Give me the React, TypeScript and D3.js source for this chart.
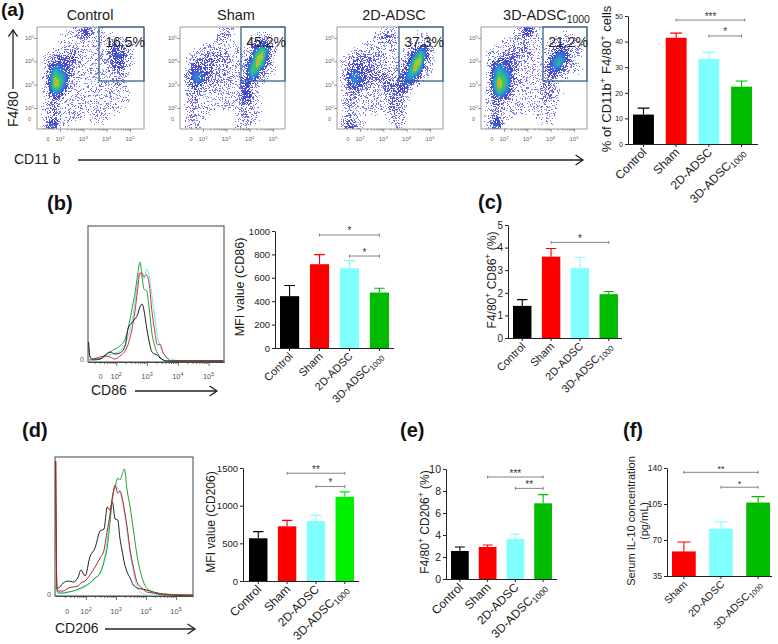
import { useEffect, useRef } from "react";
import * as d3 from "d3";

// ── Data: bar panels ──────────────────────────────────────────────────────────

const cats4 = ["Control", "Sham", "2D-ADSC", "3D-ADSC_{1000}"];
const cats3 = ["Sham", "2D-ADSC", "3D-ADSC_{1000}"];

const aMeans = [11.5, 41.5, 33.2, 22.4];
const aTops = [14, 43.3, 35.8, 24.6];
const aTicks = [0, 10, 20, 30, 40, 50];
const aSig: [number, number, number, string][] = [[1, 3.1, 48.4, "***"], [2, 3, 42.2, "*"]];

const bMeans = [443, 716, 682, 474];
const bTops = [534, 798, 747, 511];
const bTicks = [0, 200, 400, 600, 800, 1000];
const bSig: [number, number, number, string][] = [[1, 3, 966, "*"], [2, 3, 786, "*"]];

const cMeans = [1.42, 3.6, 3.09, 1.94];
const cTops = [1.7, 3.96, 3.57, 2.06];
const cTicks = [0, 1, 2, 3, 4, 5];
const cSig: [number, number, number, string][] = [[1, 3, 4.23, "*"]];

const dMeans = [567, 726, 796, 1117];
const dTops = [655, 805, 871, 1183];
const dTicks = [0, 500, 1000, 1500];
const dSig: [number, number, number, string][] = [[1, 3, 1430, "**"], [2, 3, 1254, "*"]];

const eMeans = [2.55, 2.91, 3.64, 6.88];
const eTops = [2.91, 3.09, 4.09, 7.67];
const eTicks = [0, 2, 4, 6, 8, 10];
const eSig: [number, number, number, string][] = [[1, 3, 9.27, "***"], [2, 3, 8.24, "**"]];

const fMeans = [58.9, 80.9, 106.4];
const fTops = [68, 87.7, 112.2];
const fTicks = [35, 70, 105, 140];
const fSig: [number, number, number, string][] = [[0, 2, 135.8, "**"], [1, 2, 121.3, "*"]];

// ── Data: histograms (x in decades, y in counts) ──────────────────────────────

const bX = [1.1, 1.15, 1.26, 1.47, 1.64, 1.8, 1.96, 2.12, 2.29, 2.39, 2.5, 2.61, 2.69, 2.77, 2.84, 2.9, 2.99, 3.08, 3.16, 3.25, 3.34, 3.42, 3.53, 3.64, 3.8, 4.07, 5.48];
const bBlack = [19, 4, 2, 2, 6, 9, 7, 8, 15, 33, 38, 42, 46, 54, 57, 51, 33, 18, 9, 7, 6, 3, 1, 0, 0, 0, 0];
const bGreen = [19, 4, 1, 2, 5, 9, 12, 15, 22, 33, 50, 68, 85, 99, 85, 72, 70, 50, 28, 15, 8, 4, 1, 0, 0, 0, 0];
const bRed = [2, 1, 2, 4, 5, 4, 2, 5, 10, 17, 30, 50, 70, 88, 88, 84, 86, 75, 50, 30, 16, 17, 8, 3, 0, 0, 0];
const bCyan = [1, 1, 1, 2, 4, 6, 8, 10, 17, 25, 38, 58, 78, 88, 83, 82, 92, 85, 65, 45, 25, 15, 8, 4, 2, 0, 0];

const dX = [0.99, 1.03, 1.08, 1.24, 1.41, 1.58, 1.74, 1.83, 1.97, 2.13, 2.3, 2.47, 2.6, 2.71, 2.8, 2.88, 2.97, 3.06, 3.13, 3.2, 3.28, 3.37, 3.47, 3.58, 3.71, 3.86, 4.02, 4.24, 4.58, 5.57];
const dBlack = [135, 8, 8, 13, 15, 14, 19, 26, 20, 39, 48, 65, 67, 89, 86, 94, 77, 76, 58, 46, 33, 24, 18, 11, 8, 7, 6, 4, 2, 0];
const dRed = [135, 8, 5, 5, 8, 9, 10, 13, 15, 21, 29, 38, 46, 66, 81, 98, 111, 103, 105, 99, 86, 69, 46, 29, 13, 8, 4, 3, 1, 1];
const dGreen = [10, 6, 3, 3, 4, 5, 7, 8, 10, 13, 18, 23, 34, 49, 73, 98, 109, 118, 116, 121, 127, 106, 89, 66, 39, 19, 8, 4, 2, 1];
const dCyan = [5, 4, 3, 3, 4, 5, 6, 7, 9, 13, 17, 23, 36, 56, 83, 101, 109, 108, 104, 96, 83, 64, 43, 24, 8, 3, 1, 1, 1, 0];

const histMajor = [2, 3, 4, 5];

// ── Data: flow density, read cell by cell (0 empty … 9 peak) ──────────────────

const flowNames = ["Control", "Sham", "2D-ADSC", "3D-ADSC_{1000}"];
const flowPercents = ["16.5%", "45.2%", "37.3%", "21.2%"];

const flowControl = [
  "000000112431100000000",
  "000001113431111000000",
  "000001111211111211000",
  "000011111111112332100",
  "000112221111113443100",
  "001233332111123553100",
  "012344432111123443100",
  "013554321111112442100",
  "014765321111112331000",
  "015876321111111221000",
  "015986211111111221000",
  "015985211111111211000",
  "014764211111111111000",
  "013542111111111111000",
  "012321111111111111000",
  "012311111111111110000",
  "013311111111111100000",
  "012211111011110000000",
  "014411100001100000000",
  "015510000000000000000",
];
const flowSham = [
  "000000001110000000000",
  "000000013300000111000",
  "000000012200001232000",
  "000001111110002454200",
  "000112221111014686200",
  "001223332211115895200",
  "012333332211136984100",
  "013433322211147973100",
  "024544322211158742100",
  "025654322211247531000",
  "025653222211345210000",
  "024432222111343100000",
  "023321211111343100000",
  "013211111111453100000",
  "012211111111342100000",
  "012111111111232100000",
  "012111100001222100000",
  "012111000001221100000",
  "011100000001221000000",
  "012100000001110000000",
];
const flow2D = [
  "000000000111000000000",
  "000000012331000011000",
  "000000012331000111100",
  "000001111111001233200",
  "000111111111012465200",
  "001222222211013686200",
  "012333332211125894100",
  "013443322211136983100",
  "014543332211247962100",
  "025654433322257641000",
  "025654333332356410000",
  "014543222333453100000",
  "013321111233431000000",
  "012211111133321000000",
  "012111111133310000000",
  "012111111123210000000",
  "012111111133310000000",
  "012111000012210000000",
  "023211000012210000000",
  "034310000001100000000",
];
const flow3D = [
  "000000013531000000000",
  "000000123421000011000",
  "000011122111001112100",
  "000111222211012342110",
  "001122333211013443210",
  "012233332211024653210",
  "013444322111136764100",
  "014654321111146742100",
  "015765321111145421110",
  "015876321111234311000",
  "016986321111232100000",
  "016986211111232000000",
  "015875211111232100000",
  "014653111111232000000",
  "013431111111221000000",
  "013321111111111000000",
  "012211111111111000000",
  "013311100001111000000",
  "014410000000110000000",
  "015510000000000000000",
];

const flowGrids = [flowControl, flowSham, flow2D, flow3D];

// ── Layout ────────────────────────────────────────────────────────────────────

const FONT = "'Liberation Sans', Arial, sans-serif";
const BLACK = "#000000";
const RED = "#fa0000";
const CYAN = "#80ffff";
const GREEN = "#00bb00";
const BRIGHT = "#00f000";

const flowFrames = [
  { x: 37, w: 107, gate: 99, title: 90 },
  { x: 180, w: 105, gate: 241, title: 236 },
  { x: 337, w: 106, gate: 399, title: 394 },
  { x: 481, w: 106, gate: 543, title: 546.5 },
];

// ── Helpers ───────────────────────────────────────────────────────────────────

type G = d3.Selection<any, unknown, null, undefined>;

// "a^{b}" and "a_{b}" become shifted tspans
function richText(text: d3.Selection<any, any, any, any>, s: string, size: number) {
  const parts = s.split(/(\^\{[^}]*\}|_\{[^}]*\})/).filter(Boolean);
  let shift = 0;
  parts.forEach((p) => {
    const sup = p.startsWith("^{");
    const sub = p.startsWith("_{");
    const target = sup ? -size * 0.38 : sub ? size * 0.22 : 0;
    text
      .append("tspan")
      .attr("dy", target - shift)
      .attr("font-size", sup || sub ? size * 0.72 : size)
      .text(sup || sub ? p.slice(2, -1) : p);
    shift = target;
  });
}

function label(g: G, x: number, y: number, s: string, size: number, opts: { anchor?: string; rotate?: number; fill?: string; weight?: number } = {}) {
  const t = g
    .append("text")
    .attr("transform", `translate(${x},${y}) rotate(${opts.rotate ?? 0})`)
    .attr("text-anchor", opts.anchor ?? "start")
    .attr("font-family", FONT)
    .attr("fill", opts.fill ?? "#1c1c1c")
    .attr("font-weight", opts.weight ?? 400)
    .attr("font-size", size);
  richText(t, s, size);
  return t;
}

function arrow(g: G, x1: number, y1: number, x2: number, y2: number, head: number) {
  const a = Math.atan2(y2 - y1, x2 - x1);
  const line = d3.line();
  g.append("path")
    .attr("d", line([[x1, y1], [x2, y2]]))
    .attr("stroke", "#222")
    .attr("stroke-width", 1.3)
    .attr("fill", "none");
  g.append("path")
    .attr(
      "d",
      line([
        [x2 - head * Math.cos(a - 0.6), y2 - head * Math.sin(a - 0.6)],
        [x2, y2],
        [x2 - head * Math.cos(a + 0.6), y2 - head * Math.sin(a + 0.6)],
      ]),
    )
    .attr("stroke", "#222")
    .attr("stroke-width", 1.3)
    .attr("fill", "none");
}

interface BarOpts {
  cats: string[];
  means: number[];
  tops: number[];
  colors: string[];
  ticks: number[];
  sig: [number, number, number, string][];
  left: number; // y axis x
  barL: number;
  barR: number;
  end: number;
  y0: number;
  y1: number;
  domain: [number, number];
  tickSize: number;
  catSize: number;
  sigSize?: number;
}

function drawBars(g: G, o: BarOpts) {
  const x = d3.scaleBand().domain(o.cats).range([o.barL, o.barR]).paddingInner(0.36);
  const y = d3.scaleLinear().domain(o.domain).range([o.y0, o.y1]);
  const bw = x.bandwidth();
  const cx = (i: number) => (x(o.cats[0]) as number) + bw / 2 + x.step() * i;

  o.cats.forEach((c, i) => {
    g.append("rect")
      .attr("x", x(c) as number)
      .attr("y", y(o.means[i]))
      .attr("width", bw)
      .attr("height", o.y0 - y(o.means[i]))
      .attr("fill", o.colors[i]);
    g.append("path")
      .attr("d", `M${cx(i)},${y(o.means[i])}V${y(o.tops[i])}M${cx(i) - bw * 0.28},${y(o.tops[i])}H${cx(i) + bw * 0.28}`)
      .attr("stroke", o.colors[i])
      .attr("stroke-width", 1.1)
      .attr("fill", "none");
    g.append("path")
      .attr("d", `M${cx(i)},${o.y0}v3`)
      .attr("stroke", "#222");
    const t = label(g, cx(i) + 4, o.y0 + 9, c, o.catSize, { anchor: "end", rotate: -45 });
    t.attr("fill", "#222");
  });

  const yAxis = d3.axisLeft(y).tickValues(o.ticks).tickSize(3).tickSizeOuter(0).tickFormat(d3.format("d") as any);
  const ax = g.append("g").attr("transform", `translate(${o.left},0)`).call(yAxis as any);
  ax.selectAll("text").attr("font-family", FONT).attr("font-size", o.tickSize).attr("fill", "#222").attr("dx", 1);
  ax.selectAll("line,path").attr("stroke", "#222");

  g.append("path").attr("d", `M${o.left},${o.y0 + 0.5}H${o.end}`).attr("stroke", "#222").attr("stroke-width", 1.1);

  o.sig.forEach(([from, to, v, stars]) => {
    const ly = y(v);
    g.append("path")
      .attr("d", `M${cx(from)},${ly - 1.5}v3M${cx(from)},${ly}H${cx(to)}M${cx(to)},${ly - 1.5}v3`)
      .attr("stroke", "#666")
      .attr("stroke-width", 0.8)
      .attr("fill", "none");
    label(g, (cx(from) + cx(to)) / 2, ly - 0.5, stars, o.sigSize ?? 10, { anchor: "middle", fill: "#333" });
  });
}

const logMinor = (from: number, to: number) =>
  d3.range(from, to).flatMap((d) => d3.range(2, 10).map((m) => d + Math.log10(m)));

function drawHist(
  g: G,
  f: { x0: number; x1: number; y0: number; y1: number; at3: number; decade: number; base: number; zeroTick: number; labelY: number; yMax: number },
  xs: number[],
  curves: [number[], string][],
) {
  const x = d3.scaleLinear().domain([3 + (f.x0 - f.at3) / f.decade, 3 + (f.x1 - f.at3) / f.decade]).range([f.x0, f.x1]);
  const y = d3.scaleLinear().domain([0, f.yMax]).range([f.base, f.y1]);
  g.append("rect")
    .attr("x", f.x0)
    .attr("y", f.y1)
    .attr("width", f.x1 - f.x0)
    .attr("height", f.y0 - f.y1)
    .attr("fill", "#fff")
    .attr("stroke", "#444")
    .attr("stroke-width", 1);
  const line = d3
    .line<number>()
    .x((_d, i) => x(xs[i]))
    .y((d) => y(d))
    .curve(d3.curveMonotoneX);
  curves.forEach(([vals, color]) => {
    g.append("path").attr("d", line(vals)).attr("fill", "none").attr("stroke", color).attr("stroke-width", 1);
  });
  const minor = d3.axisBottom(x).tickValues(logMinor(1, 5).filter((d) => d > x.domain()[0])).tickSize(2).tickSizeOuter(0).tickFormat(() => "");
  const major = d3.axisBottom(x).tickValues(histMajor).tickSize(4).tickSizeOuter(0).tickFormat(() => "");
  [minor, major].forEach((a) => {
    const ax = g.append("g").attr("transform", `translate(0,${f.y0})`).call(a as any);
    ax.selectAll("line,path").attr("stroke", "#444").attr("stroke-width", 0.7);
  });
  histMajor.forEach((d) => {
    label(g, x(d), f.labelY, `10^{${d}}`, 7.5, { anchor: "middle", fill: "#555" });
  });
  label(g, x(f.zeroTick), f.labelY, "0", 7, { anchor: "middle", fill: "#555" });
  label(g, f.x0 - 4, f.base + 1, "0", 7, { anchor: "end", fill: "#555" });
}

const densityColor = d3
  .scaleLinear<string>()
  .domain([1, 4, 6, 7, 8, 8.7, 9])
  .range(["#7878ea", "#4444d4", "#3088d4", "#28b4a8", "#48c458", "#b8d030", "#e8a020"])
  .clamp(true);
const densityCover = d3.scaleLinear().domain([0, 1, 2, 3, 4, 6]).range([0, 0.2, 0.34, 0.5, 0.72, 1]).clamp(true);

function drawDensity(g: G, rows: string[], px: number, py: number, w: number, h: number) {
  const nr = rows.length;
  const nc = rows[0].length;
  const gx = d3.scaleLinear().domain([0, w]).range([-0.5, nc - 0.5]);
  const gy = d3.scaleLinear().domain([0, h]).range([-0.5, nr - 0.5]);
  const cell = (r: number, c: number) =>
    +rows[Math.max(0, Math.min(nr - 1, r))][Math.max(0, Math.min(nc - 1, c))];
  const paths = new Map<number, string>();
  for (let j = 0; j < h; j++) {
    for (let i = 0; i < w; i++) {
      const fx = gx(i + 0.5);
      const fy = gy(j + 0.5);
      const c0 = Math.floor(fx);
      const r0 = Math.floor(fy);
      const tx = fx - c0;
      const ty = fy - r0;
      const v =
        cell(r0, c0) * (1 - tx) * (1 - ty) +
        cell(r0, c0 + 1) * tx * (1 - ty) +
        cell(r0 + 1, c0) * (1 - tx) * ty +
        cell(r0 + 1, c0 + 1) * tx * ty;
      // stipple threshold from the pixel position, so thin regions read as separate dots
      const s = Math.sin((i + px) * 12.9898 + (j + py) * 78.233) * 43758.5453;
      const t = s - Math.floor(s);
      if (densityCover(v) > t) {
        const key = Math.round(v * 2) / 2;
        paths.set(key, (paths.get(key) ?? "") + `M${px + i},${py + j}h1v1h-1z`);
      }
    }
  }
  const dots = g.append("g").attr("filter", "url(#soft)");
  paths.forEach((d, key) => {
    dots.append("path").attr("d", d).attr("fill", densityColor(key));
  });
}

function drawFlow(g: G, idx: number) {
  const fr = flowFrames[idx];
  const top = 27;
  const h = 102;
  drawDensity(g, flowGrids[idx], fr.x, top, fr.w, h);
  g.append("path")
    .attr("d", `M${fr.x},${top}H${fr.x + fr.w}V${top + h}H${fr.x}Z`)
    .attr("fill", "none")
    .attr("stroke", "#9a9a9a")
    .attr("stroke-width", 1);
  g.append("rect")
    .attr("x", fr.gate)
    .attr("y", top)
    .attr("width", fr.x + fr.w - fr.gate)
    .attr("height", 54)
    .attr("fill", "none")
    .attr("stroke", "#2f5580")
    .attr("stroke-width", 1.2);

  const xs = d3.scaleLinear().domain([2, 5]).range([fr.x + 23, fr.x + 93]);
  const ys = d3.scaleLinear().domain([2, 5]).range([top + 81, top + 11]);
  const xAxis = d3.axisBottom(xs).tickValues(logMinor(2, 5)).tickSize(1.5).tickSizeOuter(0).tickFormat(() => "");
  const xMajor = d3.axisBottom(xs).tickValues(histMajor).tickSize(3).tickSizeOuter(0).tickFormat(() => "");
  const yMajor = d3.axisLeft(ys).tickValues(histMajor).tickSize(3).tickSizeOuter(0).tickFormat(() => "");
  [xAxis, xMajor].forEach((a) => {
    const ax = g.append("g").attr("transform", `translate(0,${top + h})`).call(a as any);
    ax.selectAll("line").attr("stroke", "#555").attr("stroke-width", 0.6);
    ax.selectAll("path").attr("stroke", "none");
  });
  const yAx = g.append("g").attr("transform", `translate(${fr.x},0)`).call(yMajor as any);
  yAx.selectAll("line").attr("stroke", "#555").attr("stroke-width", 0.6);
  yAx.selectAll("path").attr("stroke", "none");

  histMajor.forEach((d) => {
    label(g, xs(d), 141, `10^{${d}}`, 6, { anchor: "middle", fill: "#666" });
    label(g, fr.x - 3, ys(d) + 2, `10^{${d}}`, 6, { anchor: "end", fill: "#666" });
  });
  label(g, fr.x + 11, 141, "0", 5.5, { anchor: "middle", fill: "#666" });
  label(g, fr.x - 6, top + 94, "0", 5.5, { anchor: "end", fill: "#666" });
}

// ── App ───────────────────────────────────────────────────────────────────────

export default function App() {
  const svgRef = useRef<SVGSVGElement>(null);

  useEffect(() => {
    if (!svgRef.current) return;
    const svg = d3.select(svgRef.current);
    svg.selectAll("*").remove();

    const filter = svg.append("defs").append("filter").attr("id", "soft");
    filter.append("feGaussianBlur").attr("stdDeviation", 0.35);

    const g = svg.append("g") as G;

    // panel letters
    label(g, 1, 16, "(a)", 19, { weight: 700, fill: "#111" });
    label(g, 47, 210, "(b)", 20, { weight: 700, fill: "#111" });
    label(g, 478, 209, "(c)", 20, { weight: 700, fill: "#111" });
    label(g, 22, 437, "(d)", 20, { weight: 700, fill: "#111" });
    label(g, 400, 437, "(e)", 20, { weight: 700, fill: "#111" });
    label(g, 623, 437, "(f)", 20, { weight: 700, fill: "#111" });

    // (a) flow plots
    flowNames.forEach((name, i) => {
      drawFlow(g, i);
      const fr = flowFrames[i];
      label(g, fr.title, 20, name, 14.5, { anchor: "middle" });
      label(g, fr.x + fr.w + 1, 47, flowPercents[i], 14, { anchor: "end" });
    });
    label(g, 18, 127, "F4/80", 14, { rotate: -90 });
    arrow(g, 13, 89, 13, 30, 8);
    label(g, 14, 164, "CD11 b", 14);
    arrow(g, 78, 160, 583, 160, 9);

    drawBars(g, {
      cats: cats4, means: aMeans, tops: aTops, colors: [BLACK, RED, CYAN, GREEN], ticks: aTicks, sig: aSig,
      left: 628, barL: 633, barR: 752, end: 758, y0: 144, y1: 16, domain: [0, 50], tickSize: 7, catSize: 12,
    });
    label(g, 611, 79, "% of CD11b^{+} F4/80^{+} cells", 13, { anchor: "middle", rotate: -90 });

    // (b)
    drawHist(
      g,
      { x0: 88, x1: 224, y0: 362, y1: 226, at3: 147, decade: 30.8, base: 361, zeroTick: 1.5, labelY: 379, yMax: 135 },
      bX,
      [[bCyan, "#70e8f0"], [bGreen, "#20a040"], [bRed, "#e03030"], [bBlack, "#222"]],
    );
    label(g, 91, 395, "CD86", 14);
    arrow(g, 135, 391, 217, 391, 9);
    drawBars(g, {
      cats: cats4, means: bMeans, tops: bTops, colors: [BLACK, RED, CYAN, GREEN], ticks: bTicks, sig: bSig,
      left: 275, barL: 280, barR: 389, end: 394, y0: 348, y1: 231, domain: [0, 1000], tickSize: 9.5, catSize: 11,
    });
    label(g, 244, 287, "MFI value (CD86)", 12.5, { anchor: "middle", rotate: -90 });

    // (c)
    drawBars(g, {
      cats: cats4, means: cMeans, tops: cTops, colors: [BLACK, RED, CYAN, GREEN], ticks: cTicks, sig: cSig,
      left: 508, barL: 513, barR: 618, end: 622, y0: 338, y1: 225, domain: [0, 5], tickSize: 10, catSize: 11,
    });
    label(g, 496, 280, "F4/80^{+} CD86^{+} (%)", 12, { anchor: "middle", rotate: -90 });

    // (d)
    drawHist(
      g,
      { x0: 55, x1: 193, y0: 596, y1: 457, at3: 116, decade: 30, base: 596, zeroTick: 1.37, labelY: 614, yMax: 139 },
      dX,
      [[dCyan, "#70e8f0"], [dBlack, "#222"], [dGreen, "#20a040"], [dRed, "#c02020"]],
    );
    label(g, 55, 633, "CD206", 14);
    arrow(g, 105, 629, 195, 629, 9);
    drawBars(g, {
      cats: cats4, means: dMeans, tops: dTops, colors: [BLACK, RED, CYAN, BRIGHT], ticks: dTicks, sig: dSig,
      left: 243, barL: 249, barR: 354, end: 359, y0: 581, y1: 468, domain: [0, 1500], tickSize: 9.5, catSize: 12,
    });
    label(g, 215, 522, "MFI value (CD206)", 12, { anchor: "middle", rotate: -90 });

    // (e)
    drawBars(g, {
      cats: cats4, means: eMeans, tops: eTops, colors: [BLACK, RED, CYAN, GREEN], ticks: eTicks, sig: eSig,
      left: 446, barL: 451, barR: 552, end: 557, y0: 579, y1: 469, domain: [0, 10], tickSize: 10.5, catSize: 12,
    });
    label(g, 429, 522, "F4/80^{+} CD206^{+} (%)", 12, { anchor: "middle", rotate: -90 });

    // (f)
    drawBars(g, {
      cats: cats3, means: fMeans, tops: fTops, colors: [RED, CYAN, GREEN], ticks: fTicks, sig: fSig,
      left: 667, barL: 672, barR: 770, end: 772, y0: 576, y1: 468, domain: [35, 140], tickSize: 8.5, catSize: 10.5, sigSize: 9,
    });
    label(g, 635, 521, "Serum IL-10 concentration", 11, { anchor: "middle", rotate: -90 });
    label(g, 648, 521, "(pg/mL)", 11, { anchor: "middle", rotate: -90 });
  }, []);

  return (
    <svg
      ref={svgRef}
      width={778}
      height={644}
      style={{ position: "absolute", left: 0, top: 0, background: "#fff" }}
    />
  );
}
